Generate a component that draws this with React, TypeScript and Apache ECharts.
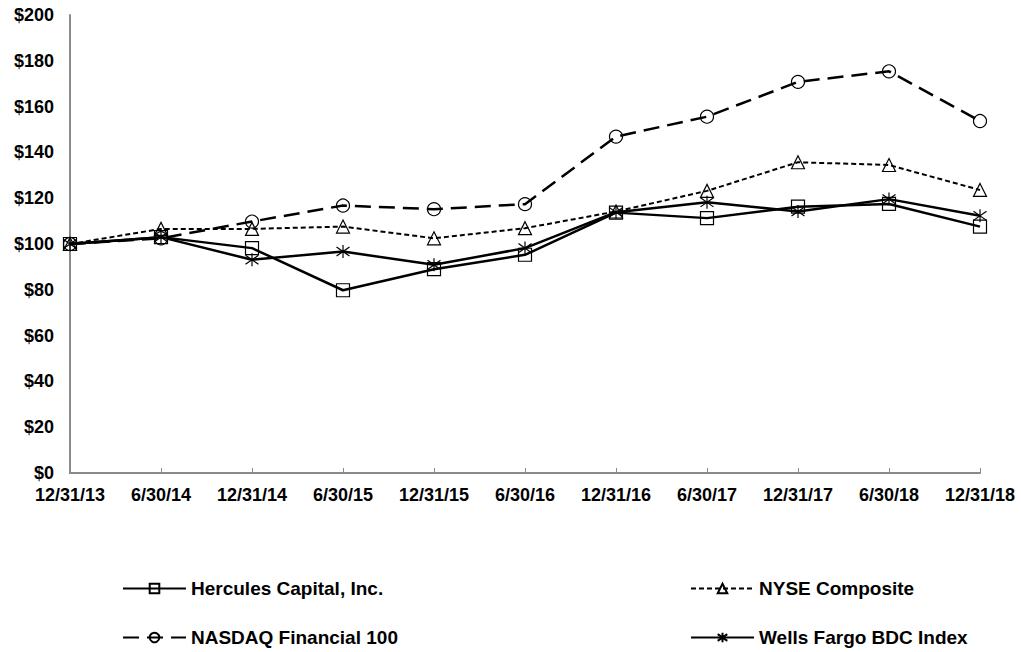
import React, { useEffect, useRef } from "react";
import * as echarts from "echarts";

const categories = ["12/31/13", "6/30/14", "12/31/14", "6/30/15", "12/31/15", "6/30/16", "12/31/16", "6/30/17", "12/31/17", "6/30/18", "12/31/18"];
const hercules = [100, 103, 98.2, 79.8, 89, 95.3, 113.7, 111.3, 116.3, 117.5, 107.6];
const nyse = [100, 106.6, 106.6, 107.6, 102.5, 106.9, 114.2, 123.2, 135.7, 134.5, 123.6];
const nasdaq = [100, 102.5, 109.8, 116.8, 115.2, 117.4, 146.9, 155.6, 170.8, 175.4, 153.7];
const wells = [100, 103, 93.1, 96.7, 90.9, 98.2, 113.9, 118.2, 114.2, 119.6, 112.3];
const yTicks = [0, 20, 40, 60, 80, 100, 120, 140, 160, 180, 200];

const FONT = "Arial, 'Liberation Sans', Helvetica, sans-serif";
const STAR = "path://M1.5,1.5L8.5,8.5M8.5,1.5L1.5,8.5M5,0L5,10";

export default function App() {
  const ref = useRef<HTMLDivElement>(null);
  useEffect(() => {
    if (!ref.current) return;
    const chart = echarts.init(ref.current, undefined, { renderer: "svg" });
    const mk = (name: string, data: number[], symbol: string, type: any, width: number) => ({
      name,
      type: "line",
      data,
      symbol,
      symbolSize: 13,
      showAllSymbol: true,
      lineStyle: { color: "#000", width, type },
      itemStyle: { color: "rgba(0,0,0,0)", borderColor: "#000", borderWidth: 1.2 },
      emphasis: { disabled: true },
    });
    const legendBase = {
      orient: "vertical",
      itemWidth: 63,
      itemHeight: 12,
      itemGap: 30,
      icon: undefined,
      textStyle: { fontFamily: FONT, fontWeight: "bold", fontSize: 19, color: "#000" },
      selectedMode: false,
    };
    chart.setOption({
      animation: false,
      backgroundColor: "#fff",
      grid: { left: 70, right: 41, top: 15, bottom: 179, containLabel: false },
      xAxis: {
        type: "category",
        data: categories,
        boundaryGap: false,
        axisLine: { lineStyle: { color: "#8a8a8a", width: 2 } },
        axisTick: { inside: true, length: 5, lineStyle: { color: "#8a8a8a", width: 1 } },
        axisLabel: { fontFamily: FONT, fontWeight: "bold", fontSize: 18, color: "#000", margin: 13, interval: 0 },
        splitLine: { show: false },
      },
      yAxis: {
        type: "value",
        min: yTicks[0],
        max: yTicks[yTicks.length - 1],
        interval: 20,
        axisLine: { show: true, lineStyle: { color: "#8a8a8a", width: 2 } },
        axisTick: { show: false },
        splitLine: { show: false },
        axisLabel: {
          fontFamily: FONT,
          fontWeight: "bold",
          fontSize: 18,
          color: "#000",
          margin: 16,
          formatter: (v: number) => "$" + v,
        },
      },
      legend: [
        { ...legendBase, left: 117, top: 574, data: ["Hercules Capital, Inc.", "NASDAQ Financial 100"] },
        { ...legendBase, left: 685, top: 574, data: ["NYSE Composite", "Wells Fargo BDC Index"] },
      ],
      series: [
        mk("Hercules Capital, Inc.", hercules, "rect", "solid", 2.5),
        mk("NYSE Composite", nyse, "triangle", [5, 3], 2),
        mk("NASDAQ Financial 100", nasdaq, "circle", [16, 8], 2.5),
        mk("Wells Fargo BDC Index", wells, STAR, "solid", 2.5),
      ],
    });
    return () => chart.dispose();
  }, []);
  return <div ref={ref} style={{ position: "fixed", left: 0, top: 0, width: 1021, height: 652 }} />;
}
